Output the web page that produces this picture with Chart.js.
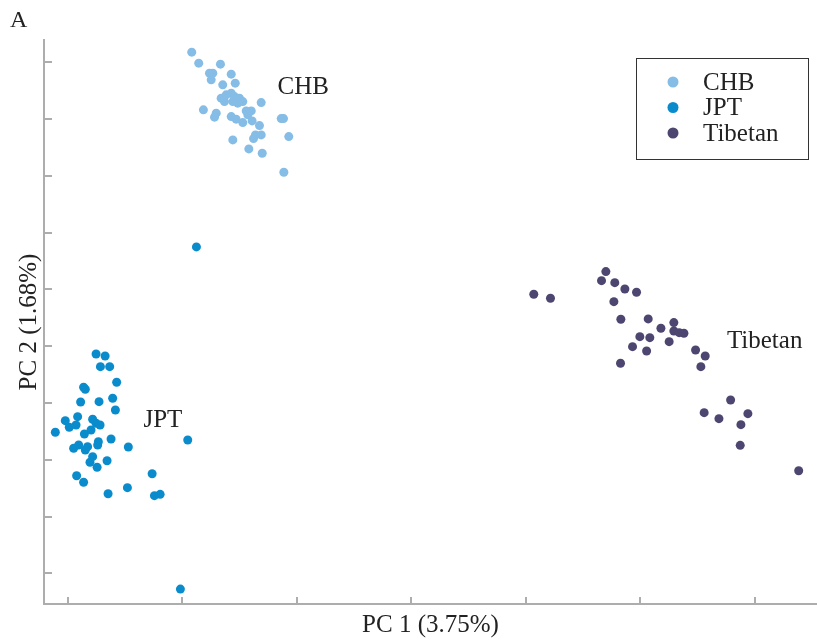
<!DOCTYPE html>
<html>
<head>
<meta charset="utf-8">
<script src="https://cdn.jsdelivr.net/npm/chart.js@4.4.1/dist/chart.umd.min.js"></script>
<style>
    body { margin: 0; background: #ffffff; overflow: hidden; }
    #wrap { width: 817px; height: 640px; position: relative; }
    canvas { display: block; }
</style>
</head>
<body>
<div id="wrap"><canvas id="pcaChart" width="817" height="640"></canvas></div>
<script>
// group names, in legend order
const groupNames = ["CHB", "JPT", "Tibetan"];
const groupColors = ["#85bde6", "#0a8ccc", "#4d4670"];

// PC1 / PC2 scores (tick units)
const chbX = [1.081, 1.142, 1.332, 1.236, 1.265, 1.426, 1.251, 1.352, 1.461, 1.338, 1.382, 1.426, 1.455, 1.498, 1.527, 1.367, 1.440, 1.483, 1.688, 1.183,
    1.295, 1.280, 1.426, 1.469, 1.527, 1.557, 1.601, 1.571, 1.609, 1.673, 1.863, 1.883, 1.638, 1.688, 1.621, 1.929, 1.440, 1.580, 1.697, 1.886];
const chbY = [9.176, 8.982, 8.965, 8.806, 8.806, 8.788, 8.688, 8.600, 8.630, 8.366, 8.424, 8.454, 8.394, 8.366, 8.306, 8.306, 8.306, 8.278, 8.288, 8.160,
    8.102, 8.031, 8.042, 7.996, 7.936, 8.142, 8.142, 8.072, 7.966, 7.883, 8.006, 8.006, 7.719, 7.719, 7.654, 7.689, 7.631, 7.473, 7.397, 7.062];

const jptX = [0.245, 0.324, 0.283, 0.364, 0.425, 0.136, 0.151, 0.110, 0.271, 0.390, 0.414, -0.024, 0.084, 0.215, -0.111, 0.011, 0.070, 0.143, 0.201, 0.245,
    0.280, 0.376, 0.265, 0.259, 0.093, 0.049, 0.171, 0.151, 0.527, 0.215, 0.192, 0.341, 0.254, 1.046, 0.075, 0.136, 0.735, 0.519, 0.350, 0.755,
    0.805, 1.122, 0.982];
const jptY = [3.862, 3.827, 3.639, 3.639, 3.364, 3.276, 3.241, 3.017, 3.022, 3.082, 2.876, 2.688, 2.758, 2.712, 2.483, 2.571, 2.612, 2.453, 2.524, 2.642,
    2.612, 2.365, 2.318, 2.260, 2.260, 2.202, 2.230, 2.172, 2.224, 2.054, 1.955, 1.983, 1.867, 2.348, 1.719, 1.603, 1.754, 1.508, 1.402, 1.367,
    1.391, 5.747, -0.277];

const tibX = [4.700, 4.662, 4.778, 4.866, 4.968, 4.070, 4.216, 4.770, 4.831, 5.070, 5.294, 5.181, 5.294, 5.341, 5.382, 4.997, 5.084, 5.253, 4.933, 5.056,
    5.484, 5.568, 4.828, 5.530, 5.790, 5.559, 5.688, 5.941, 5.880, 5.874, 6.385];
const tibY = [5.312, 5.153, 5.118, 5.007, 4.949, 4.914, 4.843, 4.783, 4.473, 4.479, 4.414, 4.315, 4.267, 4.237, 4.227, 4.167, 4.149, 4.079, 3.991, 3.915,
    3.933, 3.827, 3.699, 3.639, 3.052, 2.829, 2.723, 2.811, 2.617, 2.254, 1.807];

// group labels written inside the plot (left edge, vertical middle)
const labelText = ["CHB", "JPT", "Tibetan"];
const labelX = [1.831, 0.659, 5.758];
const labelY = [8.547, 2.70, 4.091];

// axis ranges (no tick labels on the figure, only tick marks at whole units)
const xMin = -0.21, xMax = 6.545;
const yMin = -0.54, yMax = 9.39;

const AXIS_COLOR = "#adadad";
const SERIF = "'Liberation Serif', 'Times New Roman', serif";
const FONT_SIZE = 25;

function toPoints(xs, ys) {
    let pts = [];
    for (let i = 0; i < xs.length; i++) {
        pts.push({ x: xs[i], y: ys[i] });
    }
    return pts;
}

const groupData = [toPoints(chbX, chbY), toPoints(jptX, jptY), toPoints(tibX, tibY)];

let datasets = [];
for (let g = 0; g < groupNames.length; g++) {
    datasets.push({
        label: groupNames[g],
        data: groupData[g],
        backgroundColor: groupColors[g],
        borderWidth: 0,
        pointRadius: 4.5,
        pointHoverRadius: 4.5
    });
}

// panel letter, in-plot group names and the boxed legend
const extrasPlugin = {
    id: "extras",
    afterDatasetsDraw(chart) {
        const ctx = chart.ctx;
        const xs = chart.scales.x;
        const ys = chart.scales.y;
        ctx.save();
        ctx.fillStyle = "#222222";
        ctx.textBaseline = "middle";
        ctx.textAlign = "left";

        ctx.font = "24px " + SERIF;
        ctx.fillText("A", 10, 21);

        ctx.font = FONT_SIZE + "px " + SERIF;
        for (let i = 0; i < labelText.length; i++) {
            ctx.fillText(labelText[i], xs.getPixelForValue(labelX[i]), ys.getPixelForValue(labelY[i]));
        }

        // legend box
        ctx.strokeStyle = "#333333";
        ctx.lineWidth = 1;
        ctx.strokeRect(636.5, 58.5, 172, 101);
        for (let i = 0; i < chart.data.datasets.length; i++) {
            const ds = chart.data.datasets[i];
            const rowY = 82 + i * 25.5;
            ctx.beginPath();
            ctx.arc(673, rowY, 5.5, 0, Math.PI * 2);
            ctx.fillStyle = ds.backgroundColor;
            ctx.fill();
            ctx.fillStyle = "#222222";
            ctx.fillText(ds.label, 703, rowY + 1);
        }
        ctx.restore();
    }
};

const ctx = document.getElementById("pcaChart").getContext("2d");
const chart = new Chart(ctx, {
    type: "scatter",
    data: { datasets: datasets },
    options: {
        responsive: false,
        animation: false,
        events: [],
        layout: { autoPadding: false, padding: { top: 40, right: 0, bottom: 0, left: 0 } },
        plugins: {
            legend: { display: false },
            tooltip: { enabled: false }
        },
        scales: {
            x: {
                type: "linear",
                position: "bottom",
                min: xMin,
                max: xMax,
                border: { color: AXIS_COLOR, width: 2 },
                grid: { drawOnChartArea: false, drawTicks: true, tickLength: -7, color: AXIS_COLOR, lineWidth: 2 },
                ticks: { display: false, stepSize: 1, includeBounds: false },
                title: {
                    display: true,
                    text: "PC 1 (3.75%)",
                    color: "#222222",
                    font: { family: SERIF, size: FONT_SIZE },
                    padding: { top: 0, bottom: 0 }
                },
                afterFit(scale) { scale.height = 36; }
            },
            y: {
                type: "linear",
                position: "left",
                min: yMin,
                max: yMax,
                border: { color: AXIS_COLOR, width: 2 },
                grid: { drawOnChartArea: false, drawTicks: true, tickLength: -8, color: AXIS_COLOR, lineWidth: 2 },
                ticks: { display: false, stepSize: 1, includeBounds: false },
                title: {
                    display: true,
                    text: "PC 2 (1.68%)",
                    color: "#222222",
                    font: { family: SERIF, size: FONT_SIZE },
                    padding: { top: 14, bottom: 0 }
                },
                afterFit(scale) { scale.width = 44; }
            }
        }
    },
    plugins: [extrasPlugin]
});
</script>
</body>
</html>
